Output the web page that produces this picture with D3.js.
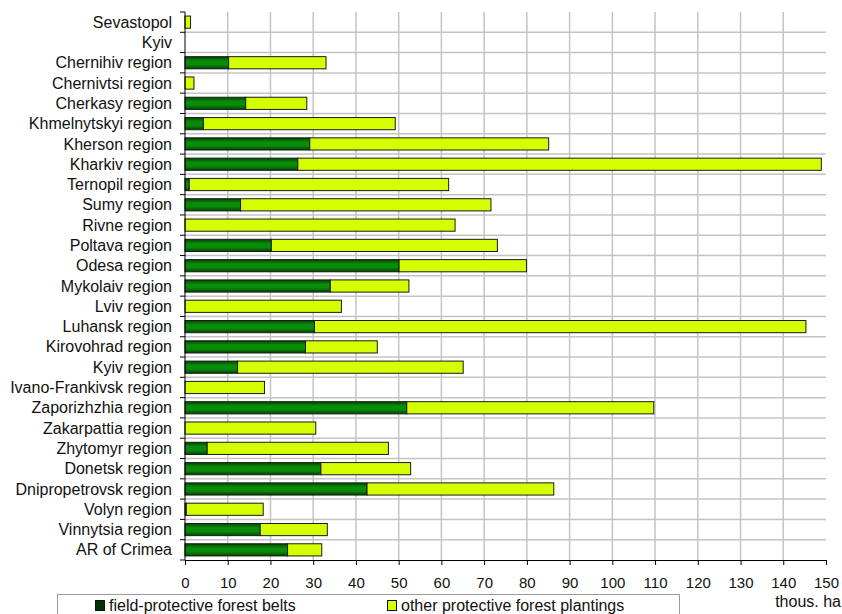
<!DOCTYPE html>
<html>
<head>
<meta charset="utf-8">
<script src="https://cdn.jsdelivr.net/npm/d3@7"></script>
<style>
  body { margin: 0; background: #fff; }
  svg { display: block; font-family: Arial, "Liberation Sans", sans-serif; }
</style>
</head>
<body>
<div id="chart"></div>
<script>
const categories = [
  "Sevastopol", "Kyiv", "Chernihiv region", "Chernivtsi region", "Cherkasy region",
  "Khmelnytskyi region", "Kherson region", "Kharkiv region", "Ternopil region",
  "Sumy region", "Rivne region", "Poltava region", "Odesa region", "Mykolaiv region",
  "Lviv region", "Luhansk region", "Kirovohrad region", "Kyiv region",
  "Ivano-Frankivsk region", "Zaporizhzhia region", "Zakarpattia region",
  "Zhytomyr region", "Donetsk region", "Dnipropetrovsk region", "Volyn region",
  "Vinnytsia region", "AR of Crimea"
];

// field-protective forest belts, thous. ha
const beltValues = [
  0, 0, 10.2, 0, 14.2, 4.3, 29.2, 26.4, 1.0, 13.0, 0, 20.2, 50.1, 34.0,
  0, 30.3, 28.2, 12.3, 0, 51.9, 0, 5.2, 31.8, 42.6, 0.3, 17.6, 24.0
];

// other protective forest plantings, thous. ha
const otherValues = [
  1.3, 0, 22.8, 2.1, 14.3, 44.9, 55.9, 122.5, 60.7, 58.6, 63.2, 52.9, 29.8, 18.4,
  36.6, 115.0, 16.8, 52.8, 18.6, 57.8, 30.6, 42.4, 21.0, 43.7, 18.0, 15.7, 8.0
];

const xTicks = d3.range(0, 151, 10);
const seriesNames = ["field-protective forest belts", "other protective forest plantings"];

const width = 842, height = 614;
const plotLeft = 185, plotRight = 826, plotTop = 12, plotBottom = 560;

const svg = d3.select("#chart").append("svg")
  .attr("width", width)
  .attr("height", height);

const defs = svg.append("defs");
const gGreen = defs.append("linearGradient").attr("id", "gGreen")
  .attr("x1", 0).attr("y1", 0).attr("x2", 0).attr("y2", 1);
gGreen.append("stop").attr("offset", "0%").attr("stop-color", "#004500");
gGreen.append("stop").attr("offset", "35%").attr("stop-color", "#0a8c0a");
gGreen.append("stop").attr("offset", "65%").attr("stop-color", "#0a8c0a");
gGreen.append("stop").attr("offset", "100%").attr("stop-color", "#004500");

const x = d3.scaleLinear().domain([0, 150]).range([plotLeft, plotRight]);
const y = d3.scaleBand().domain(categories).range([plotTop, plotBottom]).padding(0);
const bw = y.bandwidth();

// grid
svg.append("g").selectAll("line")
  .data(xTicks.filter(t => t > 0 && t < 150))
  .enter().append("line")
  .attr("x1", d => x(d)).attr("x2", d => x(d))
  .attr("y1", plotTop).attr("y2", plotBottom)
  .attr("stroke", "#c4c4c4").attr("stroke-width", 1.5);

svg.append("g").selectAll("line")
  .data(categories.slice(1))
  .enter().append("line")
  .attr("x1", plotLeft).attr("x2", plotRight)
  .attr("y1", d => y(d)).attr("y2", d => y(d))
  .attr("stroke", "#c4c4c4").attr("stroke-width", 1.5);

// bars
const rows = categories.map((c, i) => ({ name: c, belt: beltValues[i], other: otherValues[i] }));
const barH = bw * 0.6;
const bar = svg.append("g").selectAll("g")
  .data(rows)
  .enter().append("g")
  .attr("transform", d => `translate(0,${y(d.name) + (bw - barH) / 2})`);

bar.filter(d => d.belt > 0).append("rect")
  .attr("x", x(0))
  .attr("width", d => x(d.belt) - x(0))
  .attr("height", barH)
  .attr("fill", "url(#gGreen)")
  .attr("stroke", "#1a1a1a").attr("stroke-width", 1);

bar.filter(d => d.other > 0).append("rect")
  .attr("x", d => x(d.belt))
  .attr("width", d => x(d.belt + d.other) - x(d.belt))
  .attr("height", barH)
  .attr("fill", "#d4ff00")
  .attr("stroke", "#1a1a1a").attr("stroke-width", 1);

// axes
const xAxis = svg.append("g")
  .attr("transform", `translate(0,${plotBottom})`)
  .call(d3.axisBottom(x).tickValues(xTicks).tickSize(5).tickPadding(12));
xAxis.select(".domain").attr("stroke", "#000");
xAxis.selectAll("line").attr("stroke", "#000");
xAxis.selectAll("text").attr("font-size", 15).attr("fill", "#111")
  .attr("font-family", "Arial, 'Liberation Sans', sans-serif");

svg.append("line")
  .attr("x1", plotLeft).attr("x2", plotLeft).attr("y1", plotTop).attr("y2", plotBottom)
  .attr("stroke", "#000");
svg.append("g").selectAll("line")
  .data(d3.range(categories.length + 1))
  .enter().append("line")
  .attr("x1", plotLeft - 5).attr("x2", plotLeft)
  .attr("y1", i => plotTop + i * bw).attr("y2", i => plotTop + i * bw)
  .attr("stroke", "#000");

svg.append("g").selectAll("text")
  .data(categories)
  .enter().append("text")
  .attr("x", 172)
  .attr("y", d => y(d) + bw / 2)
  .attr("dy", "0.35em")
  .attr("text-anchor", "end")
  .attr("font-size", 16)
  .attr("fill", "#111")
  .text(d => d);

svg.append("text")
  .attr("x", 841).attr("y", 607)
  .attr("text-anchor", "end")
  .attr("font-size", 16).attr("fill", "#111")
  .text("thous. ha");

// legend
const legend = svg.append("g");
legend.append("rect")
  .attr("x", 57.5).attr("y", 594.5).attr("width", 622).attr("height", 30)
  .attr("fill", "#fff").attr("stroke", "#9a9a9a");
const legendX = [95, 387];
const legendFill = ["#003300", "#d4ff00"];
seriesNames.forEach((s, i) => {
  legend.append("rect")
    .attr("x", legendX[i] + 0.5).attr("y", 600.5).attr("width", 9).attr("height", 10)
    .attr("fill", legendFill[i]).attr("stroke", "#111");
  legend.append("text")
    .attr("x", legendX[i] + 14).attr("y", 611)
    .attr("font-size", 16).attr("fill", "#111")
    .text(s);
});
</script>
</body>
</html>
